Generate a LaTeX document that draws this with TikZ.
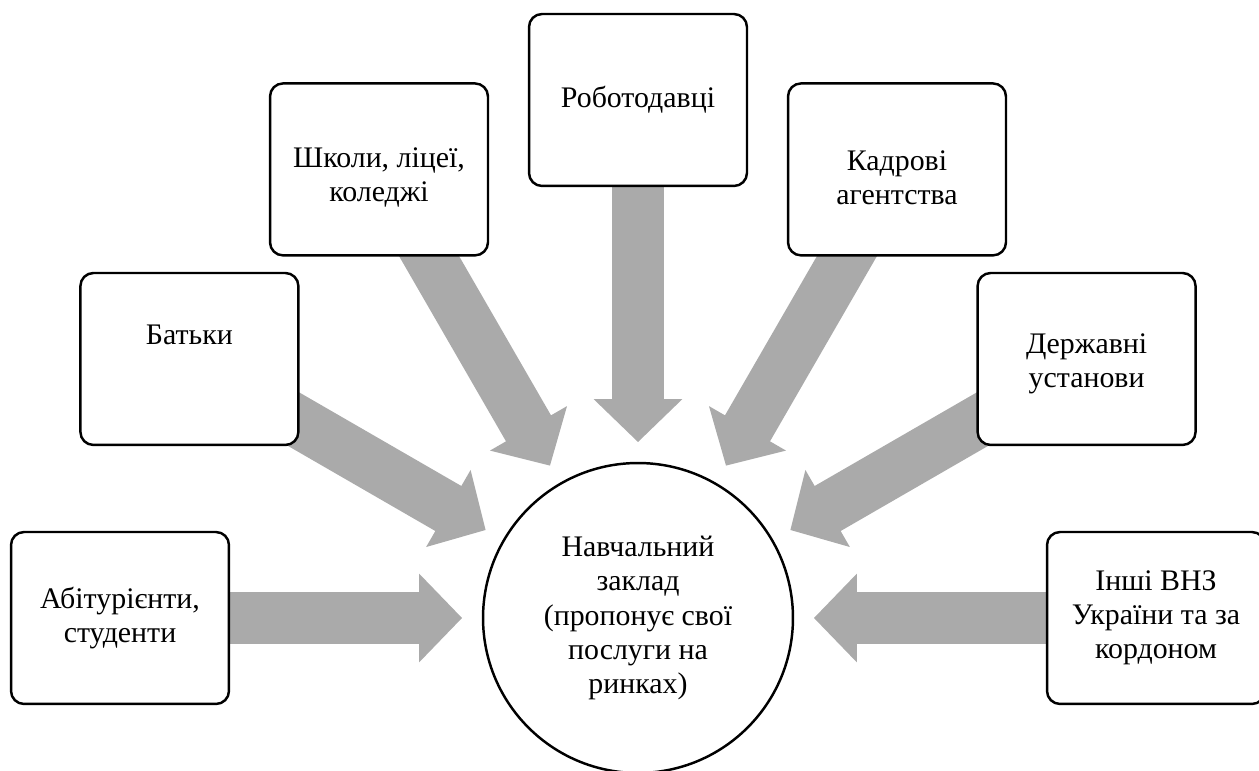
\documentclass[tikz,border=0pt]{standalone}
\usepackage{fontspec}
\setmainfont{Liberation Serif}
\usetikzlibrary{calc,backgrounds}

\definecolor{sira}{RGB}{170,170,170}

\tikzset{
  napys/.style={align=center, inner sep=0pt, font=\fontsize{17}{19.5}\selectfont},
  zaklad/.style={circle, draw, line width=1.4pt, minimum size=6.2cm, napys},
  partner/.style={draw, line width=1.4pt, rounded corners=0.26cm, fill=white,
    minimum width=4.36cm, minimum height=3.44cm, inner sep=0pt},
}

% широка стрілка від #1 до вістря #2
\newcommand{\strilka}[2]{%
  \coordinate (osn) at ($(#2)!0.86cm!(#1)$);
  \fill[sira] ($(#1)!0.52cm!90:(#2)$) -- ($(osn)!0.52cm!90:(#2)$)
    -- ($(osn)!0.89cm!90:(#2)$) -- (#2) -- ($(osn)!0.89cm!-90:(#2)$)
    -- ($(osn)!0.52cm!-90:(#2)$) -- ($(#1)!0.52cm!-90:(#2)$) -- cycle;
}

\begin{document}
\begin{tikzpicture}[x=0.02cm, y=0.02cm]
  \useasboundingbox (0,0) rectangle (1259,771);

  % навчальний заклад у центрі
  \node[zaklad] (c) at (638,153)
    {Навчальний\\заклад\\(пропонує свої\\послуги на\\ринках)};

  % партнери по колу і стрілки до центру
  \foreach \kut/\zsuv/\imja/\tekst in {
      180/0/abit/{Абітурієнти,\\студенти},
      150/24/batky/{Батьки},
      120/-8/shkoly/{Школи, ліцеї,\\коледжі},
      90/0/robot/{Роботодавці},
      60/-8/kadry/{Кадрові\\агентства},
      30/-5/derzh/{Державні\\установи},
      0/0/vnz/{Інші ВНЗ\\України та за\\кордоном}} {
    \node[partner, label={[napys, yshift=\zsuv*0.02cm]center:{\tekst}}]
      (\imja) at ($(c)+(\kut:518)$) {};
    \coordinate (\imja-t) at ($(c)+(\kut:176)$);
    \begin{scope}[on background layer]
      \strilka{\imja}{\imja-t}
    \end{scope}
  }
\end{tikzpicture}
\end{document}
